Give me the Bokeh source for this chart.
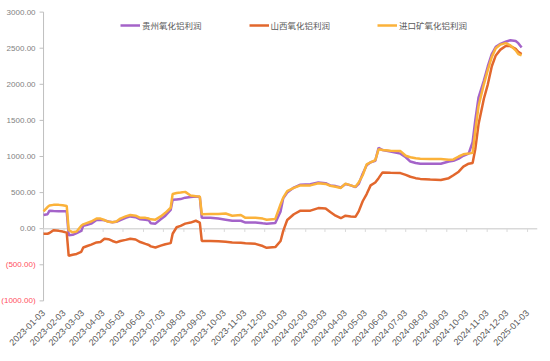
import pandas as pd
from bokeh.plotting import figure
from bokeh.models import Range1d, FixedTicker, DatetimeTickFormatter, Legend, ColumnDataSource
from bokeh.core.properties import value
from bokeh.embed import file_html
from bokeh.resources import INLINE

dates = ["2023-01-03","2023-01-09","2023-01-12","2023-01-18","2023-01-26","2023-02-01","2023-02-07",
         "2023-02-10","2023-02-16","2023-02-22","2023-03-01","2023-03-04","2023-03-10","2023-03-16",
         "2023-03-24","2023-03-30","2023-04-05","2023-04-11","2023-04-17","2023-04-23","2023-04-29",
         "2023-05-07","2023-05-14","2023-05-22","2023-05-29","2023-06-06","2023-06-11","2023-06-14",
         "2023-06-21","2023-06-29","2023-07-06","2023-07-14","2023-07-17","2023-07-23","2023-07-29",
         "2023-08-05","2023-08-13","2023-08-21","2023-08-27","2023-08-30","2023-09-12","2023-09-24",
         "2023-10-05","2023-10-15","2023-10-28","2023-11-04","2023-11-19","2023-11-30","2023-12-06",
         "2023-12-19","2023-12-27","2023-12-31","2024-01-06","2024-01-16","2024-01-26","2024-02-10",
         "2024-02-22","2024-03-04","2024-03-11","2024-03-19","2024-03-27","2024-04-03","2024-04-11",
         "2024-04-18","2024-04-23","2024-04-29","2024-05-05","2024-05-11","2024-05-18","2024-05-23",
         "2024-05-29","2024-06-10","2024-06-25","2024-07-03","2024-07-10","2024-07-18","2024-07-25",
         "2024-08-09","2024-08-25","2024-09-06","2024-09-13","2024-09-21","2024-09-28","2024-10-06",
         "2024-10-12","2024-10-16","2024-10-21","2024-10-29","2024-11-04","2024-11-10","2024-11-16",
         "2024-11-23","2024-12-01","2024-12-08","2024-12-16","2024-12-20","2024-12-25"]

guizhou = [190,200,250,245,240,240,240,
           -90,-85,-60,-30,40,55,70,
           120,125,115,100,90,95,120,
           150,170,160,130,125,115,75,
           70,130,180,260,400,405,410,
           430,440,445,440,150,150,140,
           125,110,110,85,85,75,70,
           80,240,420,500,570,610,615,
           640,630,600,590,570,620,600,
           575,620,760,880,920,940,1120,
           1090,1070,1040,990,930,910,900,
           900,900,930,940,970,1010,1040,
           1200,1500,1820,2050,2250,2420,2520,
           2560,2590,2610,2600,2570,2510]

shanxi = [-70,-70,-60,-20,-30,-40,-55,
          -375,-360,-350,-320,-260,-240,-220,
          -190,-185,-140,-145,-170,-190,-170,
          -155,-140,-150,-185,-210,-225,-245,
          -260,-235,-215,-200,-70,20,40,
          70,85,110,85,-170,-170,-175,
          -180,-190,-195,-200,-210,-240,-265,
          -255,-170,-30,120,200,250,250,
          285,280,230,180,145,180,170,
          165,240,380,480,600,640,700,
          780,775,770,745,720,700,690,
          680,675,700,740,790,860,900,
          910,1100,1450,1800,2000,2250,2400,
          2480,2530,2530,2490,2450,2420]

imported = [240,300,320,330,330,325,315,
            -20,-50,-40,40,60,80,100,
            140,140,120,95,90,100,140,
            170,190,180,150,150,140,130,
            125,170,220,290,480,495,500,
            510,460,450,445,200,205,205,
            210,180,190,150,150,140,125,
            135,340,430,520,565,600,600,
            630,620,595,580,565,625,600,
            580,640,740,890,920,950,1100,
            1090,1080,1075,1010,990,975,970,
            965,965,955,960,1000,1030,1040,
            1050,1350,1700,2000,2200,2380,2500,
            2550,2570,2540,2470,2420,2400]

series_names = ["贵州氧化铝利润", "山西氧化铝利润", "进口矿氧化铝利润"]
series_colors = ["#A463C9", "#E2672D", "#FBB23A"]

tick_dates = ["2023-01-03","2023-02-03","2023-03-03","2023-04-03","2023-05-03","2023-06-03",
              "2023-07-03","2023-08-03","2023-09-03","2023-10-03","2023-11-03","2023-12-03",
              "2024-01-03","2024-02-03","2024-03-03","2024-04-03","2024-05-03","2024-06-03",
              "2024-07-03","2024-08-03","2024-09-03","2024-10-03","2024-11-03","2024-12-03",
              "2025-01-03"]

y_ticks = [3000, 2500, 2000, 1500, 1000, 500, 0, -500, -1000]
y_tick_labels = ["3000.00", "2500.00", "2000.00", "1500.00", "1000.00", "500.00", "0.00",
                 "(500.00)", "(1000.00)"]

x = pd.to_datetime(dates)
tx = pd.to_datetime(tick_dates)
tick_ms = [int(t.value // 10**6) for t in tx]

axis_date = pd.Timestamp("2023-01-03")      # where the value axis crosses
range_start = pd.Timestamp("2022-10-30")    # leaves room for value labels inside the frame
range_end = pd.Timestamp("2025-01-18")
tick_len = pd.Timedelta(days=6)

p = figure(width=550, height=361, x_axis_type="datetime", output_backend="svg",
           toolbar_location=None, x_range=Range1d(range_start, range_end),
           y_range=Range1d(-1050, 3050),
           min_border_left=0, min_border_right=13, min_border_top=8, min_border_bottom=57)
p.outline_line_color = None
p.xgrid.visible = False
p.ygrid.visible = False
p.yaxis.visible = False

# value axis line + ticks
p.segment(x0=[axis_date], y0=[y_ticks[-1]], x1=[axis_date], y1=[y_ticks[0]],
          line_color="#BFBFBF", line_width=1)
p.segment(x0=[axis_date - tick_len]*len(y_ticks), y0=y_ticks,
          x1=[axis_date]*len(y_ticks), y1=y_ticks, line_color="#BFBFBF", line_width=1)

# zero line with month ticks
p.segment(x0=[axis_date], y0=[0], x1=[range_end], y1=[0], line_color="#D9D9D9", line_width=1.5)
p.segment(x0=tx, y0=[0]*len(tx), x1=tx, y1=[-45]*len(tx), line_color="#D9D9D9", line_width=1)

# value labels
lab_src = ColumnDataSource(dict(
    x=[axis_date]*len(y_ticks), y=y_ticks, text=y_tick_labels,
    color=["#FF4F5E" if v < 0 else "#7F7F7F" for v in y_ticks]))
p.text(x="x", y="y", text="text", source=lab_src, text_color="color", x_offset=-8,
       text_align="right", text_baseline="middle",
       text_font=value("Liberation Sans"), text_font_size="8px")

renderers = []
for vals, name, col in zip([guizhou, shanxi, imported], series_names, series_colors):
    r = p.line(x, vals, line_color=col, line_width=2.5)
    renderers.append((name, [r]))

legend = Legend(items=renderers, orientation="horizontal", location=(120, 272),
                border_line_color=None, background_fill_alpha=0, padding=0, margin=0,
                spacing=47, glyph_width=20, glyph_height=14, label_standoff=2,
                label_text_font="Noto Sans CJK SC", label_text_font_size="8.5px",
                label_text_color="#595959")
p.add_layout(legend)

# date axis: labels only
xa = p.xaxis[0]
xa.ticker = FixedTicker(ticks=tick_ms)
fmt = "%Y-%m-%d"
xa.formatter = DatetimeTickFormatter(milliseconds=fmt, seconds=fmt, minsec=fmt, minutes=fmt,
                                     hourmin=fmt, hours=fmt, days=fmt, months=fmt, years=fmt)
xa.axis_line_color = None
xa.major_tick_line_color = None
xa.minor_tick_line_color = None
xa.major_tick_out = 0
xa.major_tick_in = 0
xa.minor_tick_out = 0
xa.major_label_orientation = 0.785
xa.major_label_text_font = "Liberation Sans"
xa.major_label_text_font_size = "9px"
xa.major_label_text_color = "#595959"
xa.major_label_standoff = 7

open("out.html", "w").write(file_html(p, INLINE))
